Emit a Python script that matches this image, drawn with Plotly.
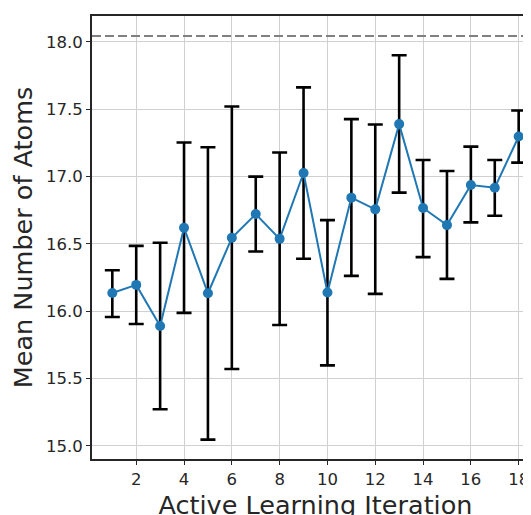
import plotly.graph_objects as go

iterations = list(range(1, 19))
mean_atoms = [16.136, 16.196, 15.891, 16.620, 16.134, 16.546, 16.722, 16.538, 17.027,
              16.139, 16.844, 16.757, 17.390, 16.767, 16.640, 16.938, 16.918, 17.298]
upper = [16.305, 16.486, 16.509, 17.253, 17.218, 17.521, 17.000, 17.179, 17.663,
         16.677, 17.427, 17.387, 17.901, 17.124, 17.042, 17.223, 17.124, 17.491]
lower = [15.958, 15.906, 15.273, 15.988, 15.047, 15.571, 16.444, 15.898, 16.390,
         15.598, 16.263, 16.129, 16.881, 16.402, 16.241, 16.660, 16.710, 17.104]
reference_value = 18.045
y_ticks = [15.0, 15.5, 16.0, 16.5, 17.0, 17.5, 18.0]
x_ticks = [2, 4, 6, 8, 10, 12, 14, 16, 18]

err_plus = [u - m for u, m in zip(upper, mean_atoms)]
err_minus = [m - l for m, l in zip(mean_atoms, lower)]

fig = go.Figure()
fig.add_trace(go.Scatter(
    x=iterations, y=mean_atoms, mode="lines+markers",
    line=dict(color="#1f77b4", width=2),
    marker=dict(color="#1f77b4", size=10),
    error_y=dict(type="data", symmetric=False, array=err_plus, arrayminus=err_minus,
                 color="black", thickness=2.6, width=7.5),
    showlegend=False,
))
fig.add_shape(type="line", xref="paper", yref="y", x0=0, x1=1,
              y0=reference_value, y1=reference_value,
              line=dict(color="#808080", width=2, dash="9px,4px"))

font_family = "DejaVu Sans"
fig.update_layout(
    width=531, height=515,
    margin=dict(l=84, r=0, t=8, b=64),
    paper_bgcolor="white", plot_bgcolor="white",
    font=dict(family=font_family, color="#262626"),
)
fig.update_xaxes(
    range=[0.15, 18.85], tickvals=x_ticks,
    showgrid=True, gridcolor="#d0d0d0", gridwidth=1.3,
    showline=True, linecolor="#262626", linewidth=2, mirror=True,
    ticks="outside", ticklen=4, tickcolor="#262626",
    tickfont=dict(size=16.5, color="#262626"),
    title=dict(text="Active Learning Iteration", font=dict(size=25.5, color="#262626"), standoff=8),
    zeroline=False,
)
fig.update_yaxes(
    range=[14.903, 18.193], tickvals=y_ticks, tickformat=".1f",
    showgrid=True, gridcolor="#d0d0d0", gridwidth=1.3,
    showline=True, linecolor="#262626", linewidth=2, mirror=False,
    ticks="outside", ticklen=4, tickcolor="#262626",
    tickfont=dict(size=16.5, color="#262626"),
    title=dict(text="Mean Number of Atoms", font=dict(size=25.5, color="#262626"), standoff=9),
    zeroline=False,
)

fig.write_html("out.html")
